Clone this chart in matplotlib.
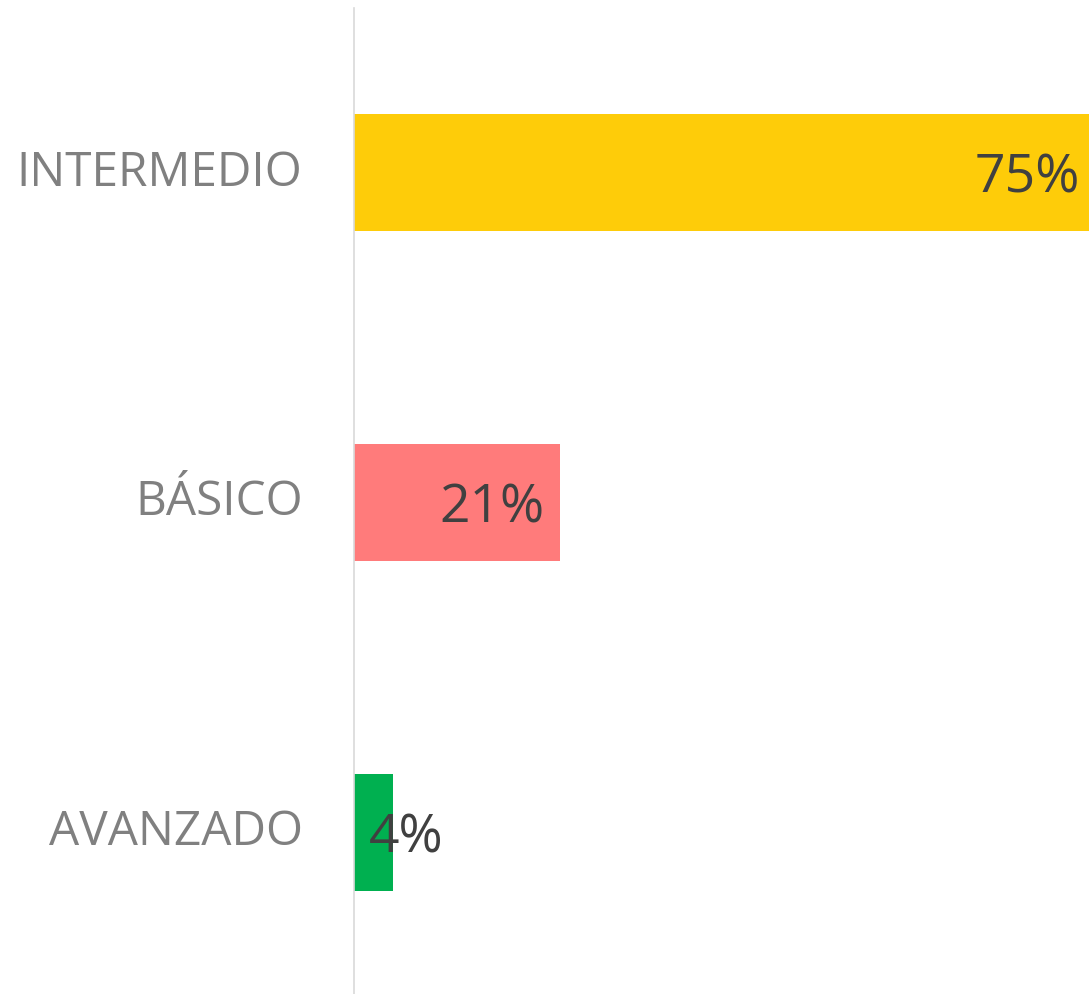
import matplotlib
matplotlib.use("Agg")
import matplotlib.pyplot as plt

categories = ["INTERMEDIO", "BÁSICO", "AVANZADO"]
values = [75, 21, 4]
labels = ["75%", "21%", "4%"]
colors = ["#FECC09", "#FF7B7B", "#00B050"]

plt.rcParams["font.family"] = ["Open Sans", "DejaVu Sans"]

fig = plt.figure(figsize=(10.89, 9.94), dpi=100)
ax = fig.add_axes([354 / 1089, 0.0, 1 - 354 / 1089, 1 - 8 / 994])

ypos = list(range(len(categories)))
ax.barh(ypos, values, height=0.355, color=colors)
ax.set_xlim(0, 75)
ax.set_ylim(2.49, -0.5)

# value labels: right edge of the text relative to the bar end, in px
offsets = [-9, -15, 50]
for y, v, lab, off in zip(ypos, values, labels, offsets):
    ax.annotate(lab, (v, y), xytext=(off, -6), textcoords="offset pixels",
                ha="right", va="center", fontsize=38.5, color="#404040")

ax.set_yticks(ypos)
ax.set_yticklabels(categories, fontsize=34.4, color="#808080")
for t in ax.get_yticklabels():
    t.set_va("center")
ax.tick_params(axis="y", length=0, pad=37)
ax.set_xticks([])
for s in ["top", "right", "bottom"]:
    ax.spines[s].set_visible(False)
ax.spines["left"].set_color("#D9D9D9")
ax.spines["left"].set_linewidth(1.2)

fig.savefig("out.png", dpi=100)
